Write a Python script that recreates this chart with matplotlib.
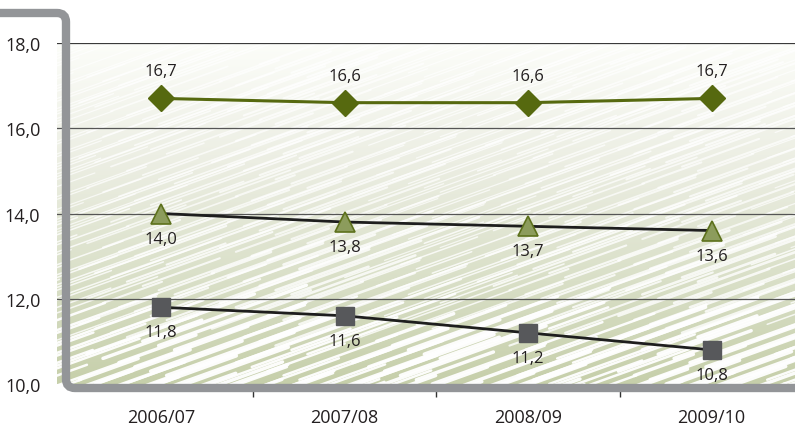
import numpy as np
import matplotlib
matplotlib.use('Agg')
import matplotlib.pyplot as plt
from matplotlib.colors import LinearSegmentedColormap
from matplotlib.patches import PathPatch
from matplotlib.path import Path

plt.rcParams['font.family'] = ['Open Sans', 'DejaVu Sans']

years = ['2006/07', '2007/08', '2008/09', '2009/10']
top_series = [16.7, 16.6, 16.6, 16.7]      # diamonds
mid_series = [14.0, 13.8, 13.7, 13.6]      # triangles
low_series = [11.8, 11.6, 11.2, 10.8]      # squares
yticks = [10, 12, 14, 16, 18]

W, H = 795, 427
fig = plt.figure(figsize=(W / 100, H / 100), dpi=100)
# axes in pixels: left 57, right 795, top 44 (18), bottom 385 (10)
ax = fig.add_axes([57 / W, (H - 385) / H, (795 - 57) / W, (385 - 44) / H])
x = np.arange(len(years))
xl = (-0.567, 3.455)
ax.set_xlim(*xl)
ax.set_ylim(10, 18)

# background gradient, white at top -> pale olive at bottom
cmap = LinearSegmentedColormap.from_list(
    'bg', [(0, '#fcfdf9'), (0.35, '#eceee3'), (0.7, '#d9dfc7'), (1, '#c6cfaa')])
grad = np.linspace(0, 1, 256).reshape(-1, 1)
ax.imshow(grad, extent=(xl[0], xl[1], 10, 18), aspect='auto', cmap=cmap,
          origin='upper', zorder=0, interpolation='bilinear')

# diagonal white streaks (decoration only)
slope = 0.36 * 738 / 341
for j in range(100):
    y0 = -0.3 + j * 0.0125
    for k in range(7):
        x0 = -0.15 + k * 0.18 + ((j * 37 + k * 11) % 13) / 13 * 0.14
        length = 0.08 + ((j * 7 + k * 5) % 9) / 9 * 0.22
        xs = np.array([x0, x0 + length])
        ys = y0 + (xs - x0) * slope
        ymid = ys.mean()
        if ymid < 0.2:
            lw, a = 1.8 + (k % 2) * 0.7, 0.95
        elif ymid < 0.45:
            lw, a = 1.1 + (k % 3) * 0.4, 0.8
        else:
            lw, a = 0.9 + (k % 3) * 0.3, 0.7
        ax.plot(xs, ys, color='white', lw=lw, alpha=a, transform=ax.transAxes,
                zorder=1, solid_capstyle='round')

# gridlines
for yv in yticks[1:]:
    ax.axhline(yv, color='#3a3a3a' if yv == 18 else '#555555', lw=0.9, zorder=2)

# series
ax.plot(x, top_series, color='#56690f', lw=2.2, marker='D', ms=13,
        mfc='#56690f', mec='#56690f', zorder=4)
ax.plot(x, mid_series, color='#1e1e1e', lw=2.0, marker='^', ms=15,
        mfc='#8c9c5c', mec='#5d711c', mew=1.2, zorder=4)
ax.plot(x, low_series, color='#1e1e1e', lw=2.0, marker='s', ms=13,
        mfc='#57585b', mec='#57585b', zorder=4)

def fmt(v):
    return ('%.1f' % v).replace('.', ',')

for xi, v in zip(x, top_series):
    ax.annotate(fmt(v), (xi, v), xytext=(0, 19.5), textcoords='offset points',
                ha='center', va='center', fontsize=12, color='#231f20', zorder=5)
for series in (mid_series, low_series):
    for xi, v in zip(x, series):
        ax.annotate(fmt(v), (xi, v), xytext=(0, -18), textcoords='offset points',
                    ha='center', va='center', fontsize=12, color='#231f20', zorder=5)

# axes styling
for s in ax.spines.values():
    s.set_visible(False)
ax.set_yticks(yticks)
ax.set_yticklabels([fmt(v) for v in yticks], fontsize=13, color='#231f20')
ax.tick_params(axis='y', length=0, pad=12)
ax.set_xticks(x)
ax.set_xticklabels(years, fontsize=13, color='#231f20')
ax.set_xticks([0.5, 1.5, 2.5], minor=True)
ax.tick_params(axis='x', which='major', length=0, pad=17)
ax.tick_params(axis='x', which='minor', length=9.5, width=1, color='#333333',
               direction='out')

# thick gray frame: top edge runs left, then down, then bottom edge runs right
fx, yt, yb, r = 66, H - 14, H - 389, 9
verts = [(-20, yt), (fx - r, yt), (fx, yt), (fx, yt - r), (fx, yb + r), (fx, yb),
         (fx + r, yb), (W + 20, yb)]
codes = [Path.MOVETO, Path.LINETO, Path.CURVE3, Path.CURVE3, Path.LINETO,
         Path.CURVE3, Path.CURVE3, Path.LINETO]
frame = PathPatch(Path(verts, codes), transform=None, fill=False, ec='#939598',
                  lw=6, zorder=2.2, clip_on=False, capstyle='butt')
ax.add_patch(frame)

fig.savefig('out.png', dpi=100)
